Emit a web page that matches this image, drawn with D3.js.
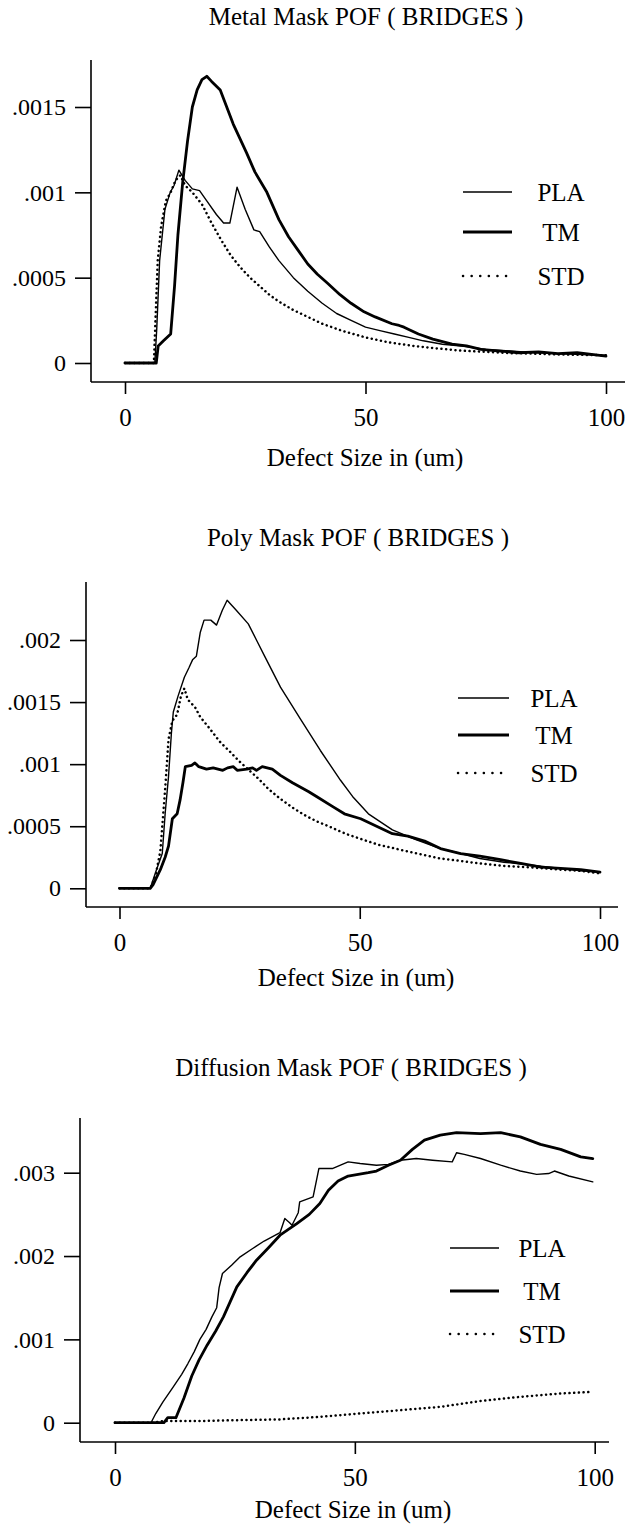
<!DOCTYPE html>
<html>
<head>
<meta charset="utf-8">
<script src="https://cdn.jsdelivr.net/npm/d3@7"></script>
<style>
    body { margin: 0; background: white; }
    text { font-family: "Liberation Serif", "DejaVu Serif", serif; fill: black; }
</style>
</head>
<body>
<div id="canvas"></div>
<script>
"use strict"

let svgWidth = 628
let svgHeight = 1524
let serif = "'Liberation Serif', 'DejaVu Serif', serif"

// x ticks shared by all three panels
let xTickValues = [0, 50, 100]
let legendNames = ["PLA", "TM", "STD"]

// Metal mask panel, [defect size, POF]
let metalPLA = [[0,0],[6.2,0],[6.6,0.0002],[7.2,0.0006],[8.3,0.0009],[9.4,0.001],[10.2,0.00104],[11.2,0.00113],[12.5,0.00107],[14,0.00102],[15.5,0.00101],[17,0.00095],[19,0.00087],[20.5,0.00082],[21.8,0.00082],[23.3,0.00103],[25,0.0009],[26.8,0.00078],[28,0.00077],[30,0.00068],[32,0.0006],[35,0.0005],[38,0.00042],[41,0.00035],[44,0.00029],[47,0.00025],[50,0.00021],[53,0.00019],[56,0.00017],[59,0.00015],[62,0.00013],[66,0.00011],[70,0.0001],[75,0.00008],[80,0.00007],[85,0.00006],[90,0.000055],[95,0.00005],[100,0.000045]]
let metalTM = [[0,0],[6.5,0],[6.9,0.0001],[8,0.00013],[9.5,0.00017],[10.3,0.00045],[11,0.00075],[12,0.00106],[13,0.0013],[14,0.0015],[15,0.0016],[16,0.00166],[17,0.00168],[18,0.00165],[19.8,0.0016],[22.5,0.0014],[25.3,0.00123],[27,0.00112],[29.5,0.001],[32,0.00084],[34,0.00074],[36,0.00066],[38,0.00058],[40,0.00052],[42,0.00047],[44.7,0.0004],[47,0.00035],[49.7,0.0003],[52,0.00027],[55.5,0.00023],[57,0.00022],[58,0.00021],[61,0.00017],[64,0.00014],[68,0.00011],[71,0.0001],[74,0.00008],[78,0.00007],[82,0.00006],[86,0.000065],[90,0.000055],[94,0.00006],[97,0.00005],[100,0.00004]]
let metalSTD = [[0,0],[6,0],[6.4,0.0003],[6.8,0.0006],[7.5,0.0008],[8.5,0.00095],[9.5,0.001],[10.5,0.00107],[11.5,0.0011],[12.5,0.00104],[14,0.001],[16,0.00093],[18,0.00082],[20,0.00072],[22,0.00063],[24,0.00056],[26,0.0005],[28,0.00045],[30,0.0004],[32,0.00036],[35,0.00031],[38,0.00027],[41,0.00023],[45,0.00019],[50,0.00015],[55,0.00012],[60,0.0001],[65,0.000085],[70,0.000072],[75,0.000065],[80,0.000058],[85,0.000055],[90,0.00005],[95,0.000048],[100,0.000045]]
let metalTicks = [0, 0.0005, 0.001, 0.0015]

// Poly mask panel
let polyPLA = [[0,0],[6.4,0],[7.7,0.00015],[8.9,0.00028],[9.5,0.0006],[10.2,0.0009],[10.8,0.00125],[11.2,0.00142],[12.2,0.00155],[13.5,0.0017],[14.5,0.00178],[15.2,0.00184],[16,0.00187],[16.8,0.00206],[17.6,0.00216],[19,0.00216],[20.2,0.00212],[21.4,0.00224],[22.4,0.00232],[24.3,0.00224],[26.8,0.00213],[28.5,0.002],[30.2,0.00187],[33.5,0.00162],[37.7,0.00136],[41.8,0.00111],[46,0.00087],[48.5,0.00074],[51.8,0.0006],[56.8,0.00047],[61.8,0.00039],[66.8,0.00032],[71,0.00028],[75,0.00024],[80,0.00021],[85,0.00019],[91.8,0.00016],[96,0.00014],[100,0.00013]]
let polyTM = [[0,0],[6.4,0],[7,0.00003],[8.5,0.00015],[9.5,0.00025],[10.2,0.00034],[11,0.00056],[12,0.0006],[12.6,0.00071],[13.2,0.00085],[13.7,0.00098],[15,0.00099],[15.7,0.00101],[16.5,0.00098],[18.1,0.00096],[19.5,0.00097],[21.5,0.00095],[22.5,0.00097],[23.7,0.00098],[24.5,0.00095],[26.5,0.00096],[27.7,0.00097],[28.5,0.00095],[29.7,0.00098],[31.8,0.00096],[33.5,0.00091],[36,0.00085],[39.3,0.00078],[41,0.00074],[44.3,0.00066],[46.8,0.0006],[50.2,0.00056],[53.5,0.0005],[56.8,0.00044],[60,0.00042],[63.5,0.00038],[66.8,0.00032],[71,0.00028],[75,0.00026],[79.3,0.00023],[83.5,0.0002],[87.7,0.00017],[91.8,0.00016],[96,0.00015],[100,0.00013]]
let polySTD = [[0,0],[6.4,0],[7.5,0.0001],[8.5,0.0003],[9.5,0.0008],[10.2,0.0012],[11,0.00135],[12,0.0014],[12.8,0.00155],[13.5,0.00161],[14.2,0.00152],[15.7,0.00146],[16.8,0.00138],[18.5,0.0013],[20.9,0.00118],[23,0.0011],[25,0.00102],[27,0.00095],[29,0.00088],[31,0.0008],[33.5,0.00072],[36,0.00065],[38.5,0.00059],[41,0.00054],[43.5,0.0005],[47,0.00044],[50,0.0004],[54,0.00035],[58.5,0.00031],[62,0.00028],[66.8,0.00024],[71,0.00022],[75,0.0002],[80,0.00018],[85,0.00017],[91.8,0.00015],[96,0.00014],[100,0.00012]]
let polyTicks = [0, 0.0005, 0.001, 0.0015, 0.002]

// Diffusion mask panel
let diffPLA = [[0,0],[7.5,0],[8.5,0.00011],[10,0.00025],[11.9,0.00041],[13.9,0.00058],[15.2,0.00071],[16.5,0.00085],[17.7,0.001],[19,0.00112],[20.2,0.00127],[21.2,0.00138],[21.7,0.00162],[22.4,0.00179],[24.3,0.00189],[26.1,0.00199],[28.7,0.00209],[31.1,0.00218],[34.4,0.00228],[35.4,0.00245],[36.4,0.0024],[36.9,0.00237],[38.2,0.00252],[38.5,0.00265],[41.3,0.00271],[42.5,0.00305],[45.3,0.00305],[48.6,0.00313],[51.1,0.00311],[54.5,0.00309],[57,0.0031],[59.5,0.00315],[62.8,0.00317],[66.2,0.00315],[70.3,0.00313],[71.2,0.00324],[72.8,0.00322],[76.2,0.00317],[80.4,0.00309],[84.5,0.00302],[87.9,0.00298],[90.4,0.00299],[91.6,0.00302],[94.6,0.00296],[99.6,0.00289]]
let diffTM = [[0,0],[10.2,0],[11,0.00006],[12.7,0.00006],[14.4,0.0003],[16,0.00056],[17.5,0.00075],[19.2,0.00093],[21,0.0011],[22.6,0.00127],[24,0.00145],[25.4,0.00163],[27.5,0.0018],[29.5,0.00195],[32,0.0021],[34.4,0.00225],[37.9,0.00239],[40.5,0.0025],[42.7,0.00263],[44.5,0.00279],[46.5,0.0029],[48.6,0.00296],[52.8,0.003],[54.5,0.00302],[57,0.00309],[59.5,0.00315],[62,0.00328],[64.5,0.00339],[67.8,0.00345],[71.2,0.00348],[76.2,0.00347],[80.4,0.00348],[84.5,0.00343],[88.7,0.00334],[92.9,0.00328],[97.1,0.00319],[99.6,0.00317]]
let diffSTD = [[0,0],[8,0],[10,0.00002],[17.7,0.00002],[25,0.00003],[34.4,0.00004],[42.8,0.00007],[51,0.00011],[59.5,0.00015],[67.8,0.00019],[76.2,0.00026],[84.5,0.00031],[92.9,0.00035],[99.6,0.00037]]
let diffTicks = [0, 0.001, 0.002, 0.003]

// line style per series
let seriesStyle = {
    PLA: { width: 1.4, dash: null, legendDash: null },
    TM: { width: 2.8, dash: null, legendDash: null },
    STD: { width: 2.5, dash: "0.1,4.6", legendDash: "0.1,8.5" }
}

// layout of the three panels
let panels = [
    {
        title: "Metal Mask POF ( BRIDGES )", titleX: 366, titleY: 25,
        axisX: 91, axisTop: 60, axisY: 382, axisRight: 625,
        xRange: [125, 606], yMax: 0.0015, yRange: [363, 107], ticks: metalTicks,
        xTitleX: 365, xTitleY: 466,
        legX1: 463, legX2: 512, legTextX: 561, legY: [192, 232, 276],
        series: { PLA: metalPLA, TM: metalTM, STD: metalSTD }
    },
    {
        title: "Poly Mask POF ( BRIDGES )", titleX: 358, titleY: 546,
        axisX: 86, axisTop: 582, axisY: 907, axisRight: 618,
        xRange: [119.5, 600], yMax: 0.002, yRange: [888.3, 640], ticks: polyTicks,
        xTitleX: 356, xTitleY: 986,
        legX1: 458, legX2: 509, legTextX: 554, legY: [698, 735, 773],
        series: { PLA: polyPLA, TM: polyTM, STD: polySTD }
    },
    {
        title: "Diffusion Mask POF ( BRIDGES )", titleX: 351, titleY: 1076,
        axisX: 80, axisTop: 1118, axisY: 1442, axisRight: 609,
        xRange: [115, 594.7], yMax: 0.003, yRange: [1422.7, 1172.7], ticks: diffTicks,
        xTitleX: 353, xTitleY: 1518,
        legX1: 450, legX2: 499, legTextX: 542, legY: [1248, 1291, 1334],
        series: { PLA: diffPLA, TM: diffTM, STD: diffSTD }
    }
]

let svg = d3.select("#canvas")
    .append("svg")
    .attr("width", svgWidth)
    .attr("height", svgHeight)
    .style("font-family", serif)

svg.append("rect")
    .attr("width", svgWidth)
    .attr("height", svgHeight)
    .attr("fill", "white")

// ".0015" style labels, no leading zero
function tickFormat(d) {
    if (d === 0) return "0"
    return String(d).replace(/^0/, "")
}

function drawPanel(p) {
    let g = svg.append("g")

    let xScale = d3.scaleLinear().domain([0, 100]).range(p.xRange)
    let yScale = d3.scaleLinear().domain([0, p.yMax]).range(p.yRange)

    g.append("text")
        .attr("x", p.titleX)
        .attr("y", p.titleY)
        .attr("text-anchor", "middle")
        .style("font-family", serif)
        .style("font-size", "25px")
        .text(p.title)

    // axis lines
    g.append("line")
        .attr("x1", p.axisX).attr("x2", p.axisX)
        .attr("y1", p.axisTop).attr("y2", p.axisY)
        .attr("stroke", "black").attr("stroke-width", 1.6)
    g.append("line")
        .attr("x1", p.axisX).attr("x2", p.axisRight)
        .attr("y1", p.axisY).attr("y2", p.axisY)
        .attr("stroke", "black").attr("stroke-width", 1.6)

    let yAxis = g.append("g")
        .attr("transform", `translate(${p.axisX},0)`)
        .call(d3.axisLeft(yScale).tickValues(p.ticks).tickFormat(tickFormat).tickSize(16).tickPadding(9))
    yAxis.select(".domain").remove()
    yAxis.selectAll("line").attr("stroke-width", 1.6)
    yAxis.selectAll("text")
        .style("font-family", serif)
        .style("font-size", "24px")

    let xAxis = g.append("g")
        .attr("transform", `translate(0,${p.axisY})`)
        .call(d3.axisBottom(xScale).tickValues(xTickValues).tickSize(12).tickPadding(14))
    xAxis.select(".domain").remove()
    xAxis.selectAll("line").attr("stroke-width", 1.6)
    xAxis.selectAll("text")
        .style("font-family", serif)
        .style("font-size", "25px")

    g.append("text")
        .attr("x", p.xTitleX)
        .attr("y", p.xTitleY)
        .attr("text-anchor", "middle")
        .style("font-family", serif)
        .style("font-size", "25px")
        .text("Defect Size in (um)")

    let line = d3.line()
        .x(function (d) { return xScale(d[0]) })
        .y(function (d) { return yScale(d[1]) })

    legendNames.forEach(function (name, i) {
        let st = seriesStyle[name]
        g.append("path")
            .datum(p.series[name])
            .attr("d", line)
            .attr("fill", "none")
            .attr("stroke", "black")
            .attr("stroke-width", st.width)
            .attr("stroke-linejoin", "round")
            .attr("stroke-linecap", "round")
            .attr("stroke-dasharray", st.dash)

        g.append("line")
            .attr("x1", p.legX1).attr("x2", p.legX2)
            .attr("y1", p.legY[i]).attr("y2", p.legY[i])
            .attr("stroke", "black")
            .attr("stroke-width", st.width)
            .attr("stroke-linecap", name == "STD" ? "round" : "butt")
            .attr("stroke-dasharray", st.legendDash)

        g.append("text")
            .attr("x", p.legTextX)
            .attr("y", p.legY[i])
            .attr("dy", "0.34em")
            .attr("text-anchor", "middle")
            .style("font-family", serif)
            .style("font-size", "25px")
            .text(name)
    })
}

panels.forEach(drawPanel)
</script>
</body>
</html>
